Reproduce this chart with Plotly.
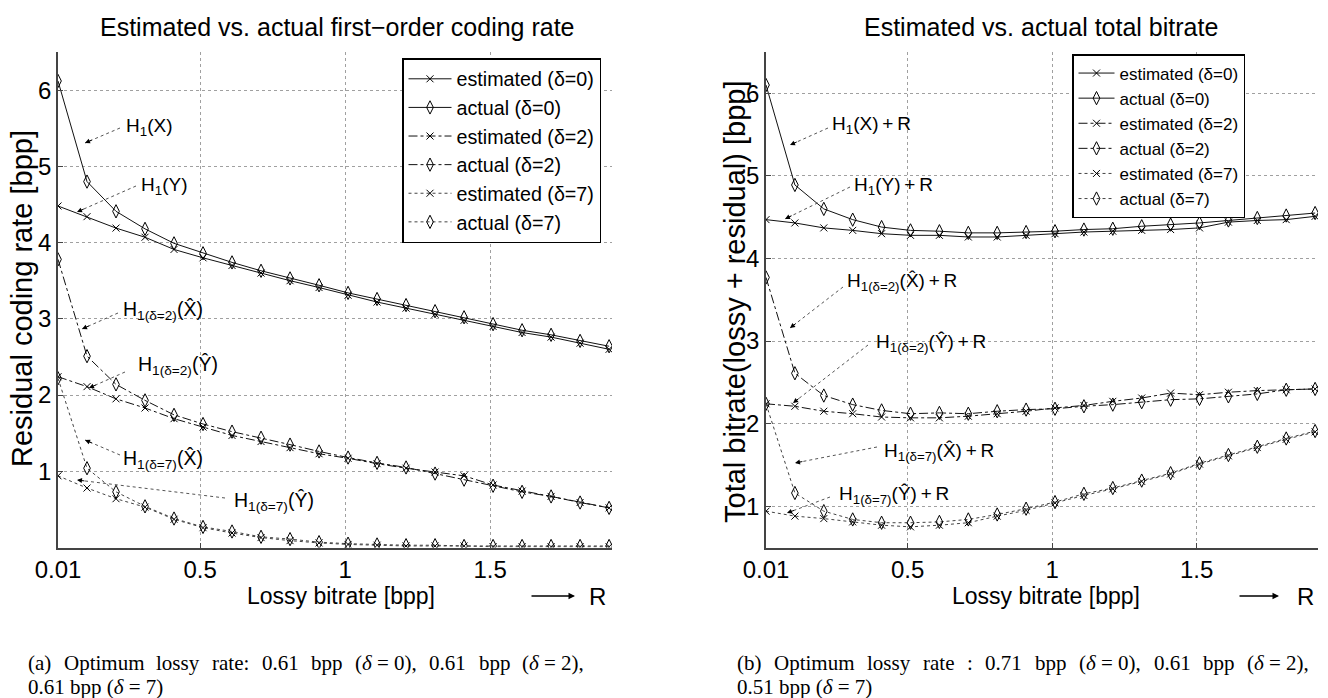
import plotly.graph_objects as go

W, H = 1328, 698

# ---------------- data ----------------
lossy_rate = [0.01, 0.11, 0.21, 0.31, 0.41, 0.51, 0.61, 0.71, 0.81, 0.91,
              1.01, 1.11, 1.21, 1.31, 1.41, 1.51, 1.61, 1.71, 1.81, 1.91]

series_names = ["estimated (δ=0)", "actual (δ=0)", "estimated (δ=2)",
                "actual (δ=2)", "estimated (δ=7)", "actual (δ=7)"]

# (a) residual coding rate [bpp]
res_est_d0 = [4.48, 4.34, 4.19, 4.07, 3.91, 3.80, 3.70, 3.60, 3.50, 3.41,
              3.31, 3.22, 3.14, 3.06, 2.98, 2.90, 2.82, 2.76, 2.68, 2.60]
res_act_d0 = [6.12, 4.80, 4.41, 4.18, 3.99, 3.86, 3.74, 3.63, 3.53, 3.44,
              3.34, 3.26, 3.18, 3.10, 3.02, 2.93, 2.85, 2.79, 2.71, 2.64]
res_est_d2 = [2.24, 2.11, 1.95, 1.83, 1.69, 1.58, 1.47, 1.39, 1.31, 1.23,
              1.17, 1.10, 1.04, 0.99, 0.94, 0.82, 0.74, 0.67, 0.59, 0.52]
res_act_d2 = [3.78, 2.51, 2.14, 1.93, 1.74, 1.62, 1.52, 1.44, 1.35, 1.26,
              1.18, 1.11, 1.05, 0.97, 0.89, 0.81, 0.73, 0.67, 0.59, 0.52]
res_est_d7 = [0.94, 0.78, 0.64, 0.53, 0.37, 0.26, 0.19, 0.13, 0.09, 0.06,
              0.04, 0.03, 0.02, 0.02, 0.02, 0.01, 0.01, 0.01, 0.01, 0.01]
res_act_d7 = [2.22, 1.04, 0.73, 0.54, 0.38, 0.27, 0.21, 0.14, 0.11, 0.07,
              0.05, 0.04, 0.03, 0.03, 0.02, 0.02, 0.02, 0.02, 0.02, 0.02]

# (b) total bitrate (lossy + residual) [bpp]
tot_est_d0 = [4.47, 4.43, 4.37, 4.34, 4.30, 4.28, 4.28, 4.26, 4.26, 4.28,
              4.30, 4.32, 4.33, 4.34, 4.35, 4.37, 4.44, 4.46, 4.47, 4.51]
tot_act_d0 = [6.10, 4.89, 4.60, 4.47, 4.38, 4.34, 4.33, 4.31, 4.31, 4.32,
              4.33, 4.35, 4.36, 4.39, 4.41, 4.43, 4.46, 4.49, 4.52, 4.55]
tot_est_d2 = [2.24, 2.21, 2.15, 2.12, 2.08, 2.07, 2.07, 2.09, 2.12, 2.15,
              2.19, 2.22, 2.27, 2.31, 2.37, 2.35, 2.38, 2.40, 2.41, 2.42]
tot_act_d2 = [3.77, 2.61, 2.34, 2.23, 2.16, 2.12, 2.13, 2.12, 2.15, 2.17,
              2.18, 2.21, 2.23, 2.26, 2.29, 2.30, 2.33, 2.36, 2.41, 2.42]
tot_est_d7 = [0.94, 0.88, 0.85, 0.81, 0.77, 0.75, 0.77, 0.80, 0.88, 0.95,
              1.04, 1.13, 1.21, 1.30, 1.39, 1.51, 1.61, 1.71, 1.81, 1.90]
tot_act_d7 = [2.24, 1.16, 0.94, 0.84, 0.80, 0.80, 0.81, 0.84, 0.90, 0.97,
              1.05, 1.15, 1.22, 1.31, 1.40, 1.52, 1.62, 1.72, 1.82, 1.91]

x_tickvals = [0.01, 0.5, 1, 1.5]
x_ticktext = ["0.01", "0.5", "1", "1.5"]
y_tickvals = [1, 2, 3, 4, 5, 6]
y_ticktext = ["1", "2", "3", "4", "5", "6"]

caption_a_line1 = ["(a)", "Optimum", "lossy", "rate:", "0.61", "bpp", "(δ = 0),",
                   "0.61", "bpp", "(δ = 2),"]
caption_a_line2 = "0.61 bpp (δ = 7)"
caption_b_line1 = ["(b)", "Optimum", "lossy", "rate", ":", "0.71", "bpp", "(δ = 0),",
                   "0.61", "bpp", "(δ = 2),"]
caption_b_line2 = "0.51 bpp (δ = 7)"

left_series = [res_est_d0, res_act_d0, res_est_d2, res_act_d2, res_est_d7, res_act_d7]
right_series = [tot_est_d0, tot_act_d0, tot_est_d2, tot_act_d2, tot_est_d7, tot_act_d7]

# ---------------- styles ----------------
FONT = "Liberation Sans, Arial, Helvetica, sans-serif"
SERIF = "Liberation Serif, Times New Roman, serif"
dashes = ["solid", "solid", "dashdot", "dashdot", "dot", "dot"]
lcolors = ["#111", "#111", "#111", "#111", "#444", "#444"]
symbols = ["x-thin", "diamond-tall-open", "x-thin", "diamond-tall-open", "x-thin", "diamond-tall-open"]
msizes = [7, 9.5, 7, 9.5, 7, 9.5]


def px(x):
    return x / W


def py(y):
    return 1 - y / H


fig = go.Figure()

for side, (series, xa, ya, lg) in enumerate([(left_series, "x", "y", "legend"),
                                             (right_series, "x2", "y2", "legend2")]):
    for i, vals in enumerate(series):
        fig.add_trace(go.Scatter(
            x=lossy_rate, y=vals, name=series_names[i], mode="lines+markers",
            xaxis=xa, yaxis=ya, legend=lg,
            line=dict(color=lcolors[i], width=1, dash=dashes[i]),
            marker=dict(symbol=symbols[i], size=msizes[i], color="black",
                        line=dict(color="black", width=1)),
        ))

axis_common = dict(showgrid=True, gridcolor="#a0a0a0", griddash="dot", gridwidth=1,
                   showline=True, linecolor="#444", linewidth=1.5, mirror=False,
                   ticks="inside", ticklen=5, tickcolor="#444", zeroline=False,
                   automargin=False,
                   tickfont=dict(family=FONT, size=24, color="black"))

ydom = [py(547.5), py(52)]
fig.update_layout(
    xaxis=dict(domain=[px(58), px(612)], range=[0.01, 1.92], anchor="y",
               tickvals=x_tickvals, ticktext=x_ticktext, **axis_common),
    yaxis=dict(domain=ydom, range=[0, 6.5], anchor="x",
               tickvals=y_tickvals, ticktext=y_ticktext, **axis_common),
    xaxis2=dict(domain=[px(766), px(1318)], range=[0.01, 1.92], anchor="y2",
                tickvals=x_tickvals, ticktext=x_ticktext, **axis_common),
    yaxis2=dict(domain=ydom, range=[0.5, 6.5], anchor="x2",
                tickvals=y_tickvals, ticktext=y_ticktext, **axis_common),
    legend=dict(x=px(402), y=py(58), xanchor="left", yanchor="top",
                bgcolor="white", bordercolor="black", borderwidth=1.5,
                font=dict(family=FONT, size=19.7, color="black"), itemwidth=43,
                tracegroupgap=0),
    legend2=dict(x=px(1072), y=py(54), xanchor="left", yanchor="top",
                 bgcolor="white", bordercolor="black", borderwidth=1.5,
                 font=dict(family=FONT, size=17, color="black"), itemwidth=36,
                 tracegroupgap=0),
    width=W, height=H, margin=dict(l=0, r=0, t=0, b=0, autoexpand=False),
    paper_bgcolor="white", plot_bgcolor="white",
    font=dict(family=FONT, color="black"),
    showlegend=True,
)

annotations = []
shapes = []


def text(x, y, s, size, **kw):
    d = dict(x=px(x), y=py(y), xref="paper", yref="paper", text=s, showarrow=False,
             xanchor="center", yanchor="middle",
             font=dict(family=kw.pop("family", FONT), size=size, color="black"))
    d.update(kw)
    annotations.append(d)


# titles
text(337, 27, "Estimated vs. actual first\u2212order coding rate", 25)
text(1041, 27, "Estimated vs. actual total bitrate", 25)
# y axis titles
text(22, 299, "Residual coding rate [bpp]", 29, textangle=-90)
text(735, 302, "Total bitrate(lossy + residual) [bpp]", 29, textangle=-90)
# x axis titles
text(341, 596, "Lossy bitrate [bpp]", 23)
text(1046, 596, "Lossy bitrate [bpp]", 23)
# --> R
for (t0, t1, rx) in [(530, 575, 597), (1238, 1279, 1305)]:
    annotations.append(dict(x=px(t1), y=py(596), ax=-(t1 - t0), ay=0, xref="paper", yref="paper",
                            text="", showarrow=True,
                            arrowhead=2, arrowsize=1, arrowwidth=1.3, arrowcolor="black"))
    text(rx, 596, "R", 24)


def pointer(label, tx, ty, tailx, taily, headx, heady, size):
    text(tx, ty, label, size, xanchor="left", yanchor="middle", align="left")
    shapes.append(dict(type="line", xref="paper", yref="paper",
                       x0=px(tailx), y0=py(taily), x1=px(headx), y1=py(heady),
                       line=dict(color="#555", width=1, dash="dot")))
    dx, dy = tailx - headx, taily - heady
    n = (dx * dx + dy * dy) ** 0.5
    annotations.append(dict(x=px(headx), y=py(heady), xref="paper", yref="paper",
                            ax=dx / n * 9, ay=dy / n * 9, text="", showarrow=True,
                            arrowhead=2, arrowsize=1, arrowwidth=1, arrowcolor="black"))


Xh = "X\u0302"
Yh = "\u0176"
# left plot labels
pointer("H<sub>1</sub>(X)", 124, 127, 120, 128, 85, 143, 19)
pointer("H<sub>1</sub>(Y)", 139, 186, 136, 186, 77, 212, 19)
pointer("H<sub>1(δ=2)</sub>(" + Xh + ")", 121, 310, 118, 313, 82, 329, 19.5)
pointer("H<sub>1(δ=2)</sub>(" + Yh + ")", 136, 366, 125, 372, 89, 388, 19.5)
pointer("H<sub>1(δ=7)</sub>(" + Xh + ")", 121, 459, 120, 455, 85, 440, 19.5)
pointer("H<sub>1(δ=7)</sub>(" + Yh + ")", 232, 501, 225, 498, 77, 480, 19.5)
# right plot labels
pointer("H<sub>1</sub>(X)\u2009+\u2009R", 830, 125, 828, 128, 790, 145, 19)
pointer("H<sub>1</sub>(Y)\u2009+\u2009R", 852, 186, 850, 187, 785, 219, 19)
pointer("H<sub>1(δ=2)</sub>(" + Xh + ")\u2009+\u2009R", 845, 282, 843, 287, 790, 328, 19)
pointer("H<sub>1(δ=2)</sub>(" + Yh + ")\u2009+\u2009R", 874, 343, 868, 345, 793, 403, 19)
pointer("H<sub>1(δ=7)</sub>(" + Xh + ")\u2009+\u2009R", 882, 452, 877, 447, 795, 463, 19)
pointer("H<sub>1(δ=7)</sub>(" + Yh + ")\u2009+\u2009R", 837, 495, 830, 497, 787, 513, 19)

# ---------------- captions (justified like the paper) ----------------
TIMES_W = {"(": .333, ")": .333, "a": .444, "b": .5, "O": .722, "p": .5, "t": .278,
           "i": .278, "m": .778, "u": .5, "l": .278, "o": .5, "s": .389, "y": .5,
           "r": .333, "e": .444, ":": .278, ".": .25, " ": .25, "=": .564, ",": .25,
           "δ": .5}


def tw(s, size):
    return sum(TIMES_W.get(c, .5) for c in s) * size


def fmt(word):
    return word.replace("δ", "<i>δ</i>").replace(" ", "\u00a0")


def justified(words, x0, x1, y, size):
    widths = [tw(w, size) for w in words]
    gap = (x1 - x0 - sum(widths)) / (len(words) - 1)
    x = x0
    for w, wd in zip(words, widths):
        text(x, y, fmt(w), size, family=SERIF, xanchor="left", align="left")
        x += wd + gap


CAP = 21
justified(caption_a_line1, 26, 583, 663, CAP)
text(26, 687, fmt(caption_a_line2), CAP, family=SERIF, xanchor="left", align="left")
justified(caption_b_line1, 735, 1308, 663, CAP)
text(735, 687, fmt(caption_b_line2), CAP, family=SERIF, xanchor="left", align="left")

fig.update_layout(annotations=annotations, shapes=shapes)
fig.write_html("out.html")
